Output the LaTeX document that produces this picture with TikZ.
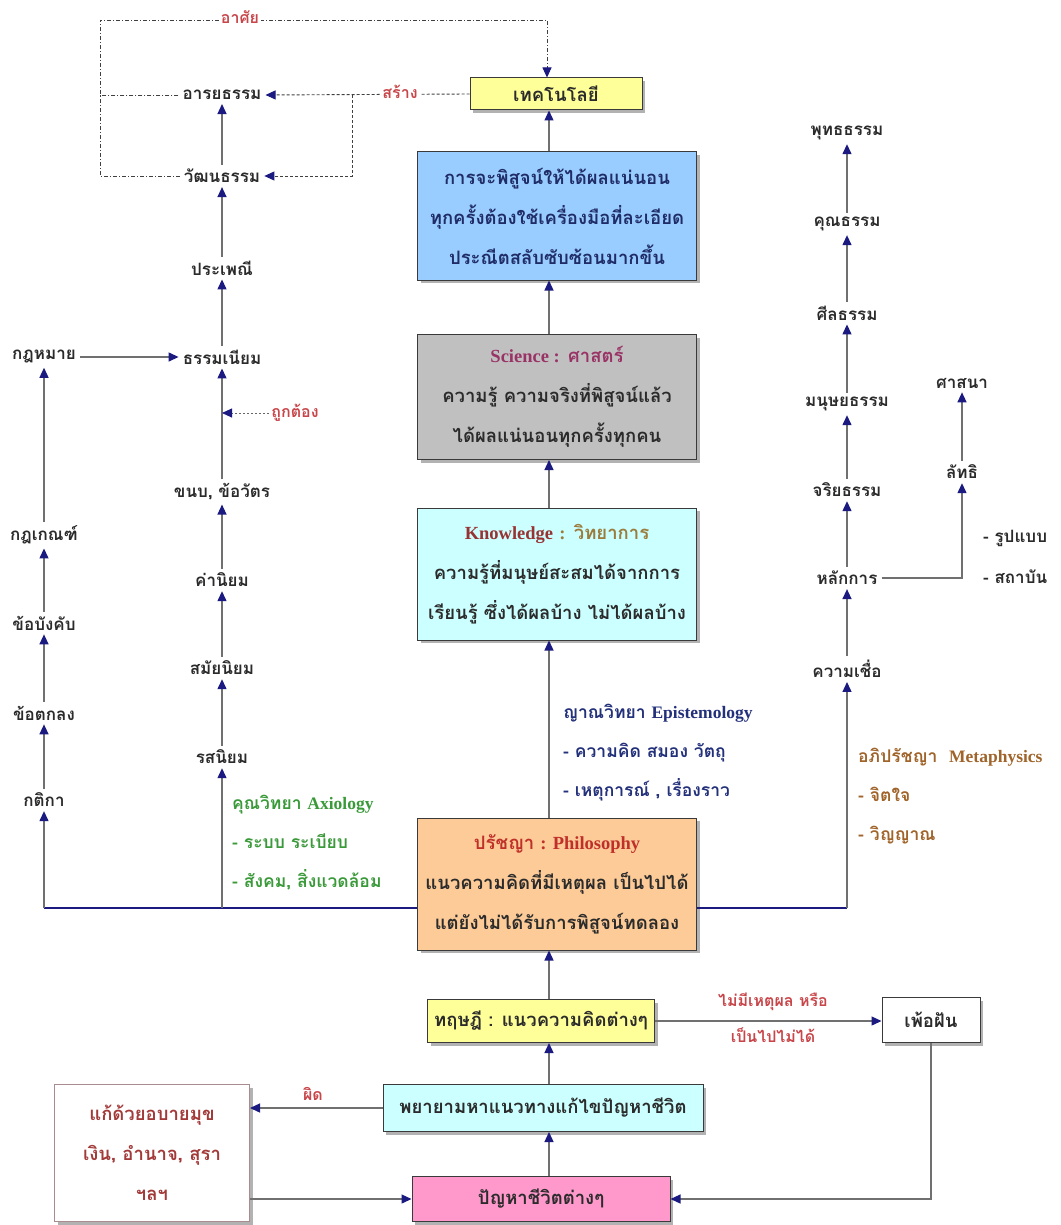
\documentclass[tikz,border=0pt]{standalone}
\usepackage{fontspec}
\setmainfont{Liberation Serif}
\newfontfamily\thai[Script=Thai]{Loma}
\newfontfamily\en{Liberation Serif}
\usetikzlibrary{arrows.meta,shadows}
\definecolor{arrnavy}{HTML}{1A1A80}
\definecolor{lineg}{HTML}{707070}
\definecolor{txt}{HTML}{2B2B2B}
\definecolor{redlbl}{HTML}{C8464A}
\definecolor{bluetxt}{HTML}{1F2C66}
\definecolor{scipurple}{HTML}{993366}
\definecolor{knred}{HTML}{993333}
\definecolor{knolive}{HTML}{9C7C3C}
\definecolor{phred}{HTML}{C0302A}
\definecolor{epinavy}{HTML}{23307A}
\definecolor{axgreen}{HTML}{3A9A3A}
\definecolor{metabrown}{HTML}{A0642A}
\definecolor{techyellow}{HTML}{FFFF99}
\definecolor{boxblue}{HTML}{99CCFF}
\definecolor{boxgray}{HTML}{C0C0C0}
\definecolor{boxcyan}{HTML}{CCFFFF}
\definecolor{boxorange}{HTML}{FCCB98}
\definecolor{boxpink}{HTML}{FF99CC}
\definecolor{kaeborder}{HTML}{A88C90}
\definecolor{kaetxt}{HTML}{A33A3A}
\definecolor{boxline}{HTML}{3A3A3A}
\begin{document}
\begin{tikzpicture}[x=1pt,y=-1pt,
  lbl/.style={font=\thai\bfseries\fontsize{17}{20}\selectfont, text=txt, inner sep=4pt},
  redl/.style={font=\thai\bfseries\fontsize{16}{20}\selectfont, text=redlbl, fill=white, inner sep=2pt},
  boxn/.style={draw=boxline, line width=1pt, align=center, inner sep=2pt,
    drop shadow={shadow xshift=3pt,shadow yshift=-3pt,fill=black!60},
    font=\thai\bfseries\fontsize{18.5}{40}\selectfont, text=txt},
  arrtip/.style={-{Triangle[width=9pt,length=10pt,color=arrnavy]}},
  conn/.style={draw=lineg, line width=1.3pt, arrtip},
  navyl/.style={draw=arrnavy, line width=2pt},
  dashc/.style={draw=black!75, line width=0.9pt, dash pattern=on 3pt off 2pt},
  dashdotc/.style={draw=black!75, line width=0.9pt, dash pattern=on 4pt off 2pt on 1pt off 2pt},
  dotc/.style={draw=black!60, line width=0.9pt, dash pattern=on 2pt off 2pt},
  blk/.style={font=\thai\bfseries\fontsize{17.5}{39}\selectfont, align=left, anchor=west, inner sep=0pt},
]
\useasboundingbox (0,0) rectangle (1060,1225);
\fill[white] (0,0) rectangle (1060,1225);

% central boxes
\node[boxn, fill=techyellow, minimum width=172, minimum height=32] (tech) at (556,94) {เทคโนโลยี};
\node[boxn, fill=boxblue, text=bluetxt, minimum width=279, minimum height=128] (blue) at (557,216) {การจะพิสูจน์ให้ได้ผลแน่นอน\\ทุกครั้งต้องใช้เครื่องมือที่ละเอียด\\ประณีตสลับซับซ้อนมากขึ้น};
\node[boxn, fill=boxgray, minimum width=279, minimum height=125] (sci) at (557,397) {{\color{scipurple}{\en Science :} ศาสตร์}\\ความรู้ ความจริงที่พิสูจน์แล้ว\\ได้ผลแน่นอนทุกครั้งทุกคน};
\node[boxn, fill=boxcyan, minimum width=279, minimum height=132] (know) at (557,574) {{\color{knred}\en Knowledge} {\color{knolive}{\en :} วิทยาการ}\\ความรู้ที่มนุษย์สะสมได้จากการ\\เรียนรู้ ซึ่งได้ผลบ้าง ไม่ได้ผลบ้าง};
\node[boxn, fill=boxorange, minimum width=279, minimum height=132] (phil) at (557,884) {{\color{phred}ปรัชญา {\en : Philosophy}}\\แนวความคิดที่มีเหตุผล เป็นไปได้\\แต่ยังไม่ได้รับการพิสูจน์ทดลอง};
\node[boxn, fill=techyellow, minimum width=227, minimum height=43] (theory) at (541,1021) {ทฤษฎี : แนวความคิดต่างๆ};
\node[boxn, fill=white, minimum width=98, minimum height=45] (fan) at (931,1020) {เพ้อฝัน};
\node[boxn, fill=boxcyan, minimum width=320, minimum height=47] (try) at (543,1108) {พยายามหาแนวทางแก้ไขปัญหาชีวิต};
\node[boxn, fill=white, draw=kaeborder, text=kaetxt, minimum width=195, minimum height=137] (kae) at (152,1153) {แก้ด้วยอบายมุข\\เงิน, อำนาจ, สุรา\\ฯลฯ};
\node[boxn, fill=boxpink, minimum width=258, minimum height=45] (prob) at (541,1199) {ปัญหาชีวิตต่างๆ};

% left-middle column
\node[lbl] (aray) at (222,95) {อารยธรรม};
\node[lbl] (wat) at (222,176) {วัฒนธรรม};
\node[lbl] (praph) at (222,268) {ประเพณี};
\node[lbl] (thamn) at (222,357) {ธรรมเนียม};
\node[lbl] (khanob) at (222,492) {ขนบ, ข้อวัตร};
\node[lbl] (khaniy) at (222,580) {ค่านิยม};
\node[lbl] (samai) at (222,668) {สมัยนิยม};
\node[lbl] (ros) at (222,757) {รสนิยม};

% left column
\node[lbl] (kotmai) at (44,357) {กฎหมาย};
\node[lbl] (kotken) at (44,535) {กฎเกณฑ์};
\node[lbl] (bangkhap) at (44,623) {ข้อบังคับ};
\node[lbl] (toklong) at (44,713) {ข้อตกลง};
\node[lbl] (katika) at (44,800) {กติกา};

% right column
\node[lbl] (phut) at (847,133) {พุทธธรรม};
\node[lbl] (khun) at (847,224) {คุณธรรม};
\node[lbl] (sin) at (847,313) {ศีลธรรม};
\node[lbl] (manut) at (847,404) {มนุษยธรรม};
\node[lbl] (jari) at (847,490) {จริยธรรม};
\node[lbl] (lak) at (847,578) {หลักการ};
\node[lbl] (chuea) at (847,669) {ความเชื่อ};
\node[lbl] (satsana) at (962,383) {ศาสนา};
\node[lbl] (latthi) at (962,472) {ลัทธิ};

% text blocks
\node[blk, text=axgreen] (axio) at (232,843) {คุณวิทยา {\en Axiology}\\- ระบบ ระเบียบ\\- สังคม, สิ่งแวดล้อม};
\node[blk, text=epinavy] (epi) at (563,753) {ญาณวิทยา {\en Epistemology}\\- ความคิด สมอง วัตถุ\\- เหตุการณ์ , เรื่องราว};
\node[blk, text=metabrown] (meta) at (858,796) {อภิปรัชญา~ {\en Metaphysics}\\- จิตใจ\\- วิญญาณ};
\node[blk, text=txt, font=\thai\bfseries\fontsize{17}{41}\selectfont] (rup) at (983,557) {- รูปแบบ\\- สถาบัน};

% coordinates
\coordinate (ax) at (549,0);
\coordinate (tl) at (100,20);
\coordinate (tr) at (547,20);
\coordinate (br) at (352,95);
\coordinate (jl) at (44,908);
\coordinate (jm) at (222,908);
\coordinate (jr) at (847,908);

% dashed relations at top
\draw[dashdotc, arrtip] (wat.west) -| (tl) -- (tr) -- (tr |- tech.north);
\draw[dashdotc] (aray.west) -- (aray.west -| tl);
\draw[dashc, arrtip] (tech.west) -- (aray.east);
\draw[dashc, arrtip] (br) |- (wat.east);
\node[redl] (asai) at (240,17) {อาศัย};
\node[redl] (sang) at (400,92) {สร้าง};

% central arrows
\draw[conn] (ax |- blue.north) -- (ax |- tech.south);
\draw[conn] (ax |- sci.north) -- (ax |- blue.south);
\draw[conn] (ax |- know.north) -- (ax |- sci.south);
\draw[conn] (ax |- phil.north) -- (ax |- know.south);
\draw[conn] (ax |- theory.north) -- (ax |- phil.south);
\draw[conn] (ax |- try.north) -- (ax |- theory.south);
\draw[conn] (ax |- prob.north) -- (ax |- try.south);

% left-middle arrows
\draw[conn] (wat) -- (aray);
\draw[conn] (praph) -- (wat);
\draw[conn] (thamn) -- (praph);
\draw[conn] (khanob) -- (thamn);
\draw[conn] (khaniy) -- (khanob);
\draw[conn] (samai) -- (khaniy);
\draw[conn] (ros) -- (samai);
\draw[conn] (kotmai) -- (thamn);
\node[redl] (tk) at (295,413) {ถูกต้อง};
\draw[dotc, arrtip] (tk.west) -- (tk.west -| khanob);

% left arrows
\draw[conn] (kotken) -- (kotmai);
\draw[conn] (bangkhap) -- (kotken);
\draw[conn] (toklong) -- (bangkhap);
\draw[conn] (katika) -- (toklong);

% right arrows
\draw[conn] (khun) -- (phut);
\draw[conn] (sin) -- (khun);
\draw[conn] (manut) -- (sin);
\draw[conn] (jari) -- (manut);
\draw[conn] (lak) -- (jari);
\draw[conn] (chuea) -- (lak);
\draw[conn] (lak.east) -| (latthi.south);
\draw[conn] (latthi) -- (satsana);

% philosophy branches
\draw[navyl] (phil.west |- jl) -- (jl);
\draw[navyl] (phil.east |- jr) -- (jr);
\draw[conn] (jl) -- (katika);
\draw[conn] (jm) -- (ros);
\draw[conn] (jr) -- (chuea);

% bottom
\draw[conn] (theory.east) -- (theory.east -| fan.west);
\node[redl, fill=none, align=center, font=\thai\bfseries\fontsize{16}{36}\selectfont] (nomh) at (773,1018) {ไม่มีเหตุผล หรือ\\เป็นไปไม่ได้};
\draw[conn] (try.west) -- (try.west -| kae.east);
\node[redl] (phit) at (313,1094) {ผิด};
\draw[conn] (kae.east |- prob.west) -- (prob.west);
\draw[conn] (fan.south) |- (prob.east);
\end{tikzpicture}
\end{document}
